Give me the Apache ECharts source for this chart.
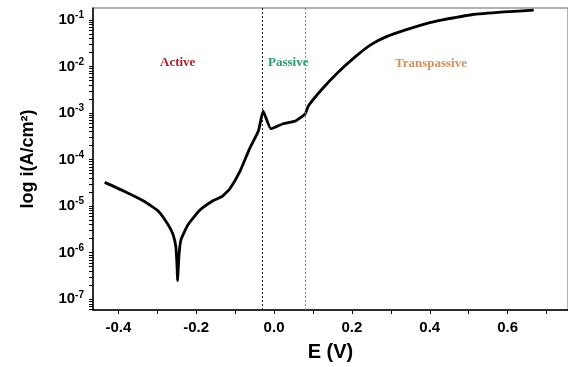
<!DOCTYPE html>
<html>
<head>
<meta charset="utf-8">
<script src="https://cdn.jsdelivr.net/npm/echarts@6/dist/echarts.min.js"></script>
<style>
  html, body { margin: 0; padding: 0; background: #fff; }
  #chart { width: 568px; height: 367px; }
</style>
</head>
<body>
<div id="chart"></div>
<script>
// potential (V) and log10 of current density
const potential = [
  -0.435, -0.385, -0.335, -0.297, -0.272, -0.259, -0.252, -0.249, -0.248,
  -0.244, -0.239, -0.221, -0.191, -0.158, -0.133, -0.113, -0.088, -0.063,
  -0.040, -0.028, -0.008, 0.023, 0.055, 0.080, 0.088, 0.123, 0.164, 0.206,
  0.249, 0.289, 0.340, 0.400, 0.433, 0.508, 0.591, 0.667
];
const logCurrent = [
  -4.49, -4.68, -4.89, -5.11, -5.40, -5.62, -5.89, -6.32, -6.60,
  -6.04, -5.72, -5.40, -5.09, -4.89, -4.79, -4.62, -4.26, -3.77,
  -3.38, -2.96, -3.34, -3.23, -3.17, -3.02, -2.85, -2.49, -2.13, -1.81,
  -1.53, -1.36, -1.21, -1.06, -1.00, -0.89, -0.83, -0.79
];
const xLabels = [-0.4, -0.2, 0.0, 0.2, 0.4, 0.6];
const xTicks = [-0.4, -0.3, -0.2, -0.1, 0.0, 0.1, 0.2, 0.3, 0.4, 0.5, 0.6, 0.7];
const yDecades = [-7, -6, -5, -4, -3, -2, -1];
const regionLines = [-0.030, 0.080];
const regionNames = ['Active', 'Passive', 'Transpassive'];

// log ticks: decades plus 2..9 inside each decade
const yTicks = [];
for (let d = -8; d <= -1; d++) {
  for (let k = 1; k <= 9; k++) yTicks.push(d + Math.log10(k));
}

const chart = echarts.init(document.getElementById('chart'));

const option = {
  animation: false,
  backgroundColor: '#fff',
  grid: {
    left: 93, right: -10, top: 8, bottom: 54,
    show: true, borderColor: '#666', borderWidth: 1
  },
  xAxis: {
    type: 'value',
    min: -0.465, max: 0.755,
    name: 'E (V)',
    nameLocation: 'middle',
    nameGap: 32,
    nameTextStyle: { fontFamily: 'Liberation Sans', fontWeight: 'bold', fontSize: 20, color: '#000' },
    axisLine: { show: true, onZero: false, lineStyle: { color: '#000', width: 1.5 } },
    axisTick: { show: true, length: 4, customValues: xTicks, lineStyle: { color: '#000' } },
    axisLabel: {
      customValues: xLabels,
      margin: 10,
      fontFamily: 'Liberation Sans', fontWeight: 'bold', fontSize: 15, color: '#000',
      formatter: v => v.toFixed(1)
    },
    splitLine: { show: false }
  },
  yAxis: {
    type: 'value',
    min: -7.23, max: -0.745,
    name: 'log i(A/cm²)',
    nameLocation: 'middle',
    nameRotate: 90,
    nameGap: 56,
    nameTextStyle: { fontFamily: 'Liberation Sans', fontWeight: 'bold', fontSize: 18, color: '#000' },
    axisLine: { show: true, onZero: false, lineStyle: { color: '#000', width: 1.5 } },
    axisTick: { show: true, length: 4, customValues: yTicks, lineStyle: { color: '#000' } },
    axisLabel: {
      customValues: yDecades,
      margin: 9,
      color: '#000',
      formatter: v => '{b|10}{s|' + Math.round(v) + '}',
      rich: {
        b: { fontFamily: 'Liberation Sans', fontWeight: 'bold', fontSize: 15, color: '#000' },
        s: { fontFamily: 'Liberation Sans', fontWeight: 'bold', fontSize: 10, color: '#000', padding: [0, 0, 9, 0] }
      }
    },
    splitLine: { show: false }
  },
  graphic: [
    { type: 'text', left: 160, top: 56, style: { text: regionNames[0], fill: '#a8232d', font: 'bold 13px "Liberation Serif"' } },
    { type: 'text', left: 268, top: 56, style: { text: regionNames[1], fill: '#2a9a72', font: 'bold 13px "Liberation Serif"' } },
    { type: 'text', left: 395, top: 57, style: { text: regionNames[2], fill: '#d0915c', font: 'bold 13px "Liberation Serif"' } }
  ],
  series: [
    {
      type: 'line',
      data: potential.map((e, i) => [e, logCurrent[i]]),
      showSymbol: false,
      smooth: 0.15,
      lineStyle: { color: '#000', width: 2.8 },
      markLine: {
        silent: true,
        symbol: 'none',
        label: { show: false },
        data: [
          { xAxis: regionLines[0], lineStyle: { color: '#222', type: [2, 2], width: 1 } },
          { xAxis: regionLines[1], lineStyle: { color: '#888', type: [2, 2], width: 1 } }
        ]
      }
    }
  ]
};

chart.setOption(option);
</script>
</body>
</html>
